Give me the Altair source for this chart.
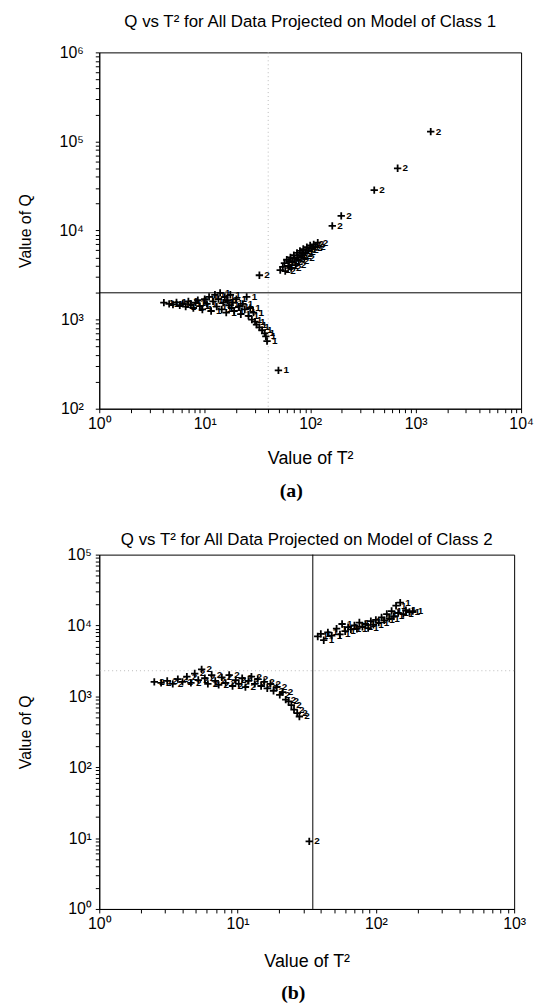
import altair as alt
import pandas as pd

# ---------------- Panel (a): all data projected on model of class 1 ----------------
a_title = "Q vs T\u00b2 for All Data Projected on Model of Class 1"
a_caption = "(a)"
a_class1_t2 = [4.1, 4.6, 5.0, 5.4, 5.8, 6.2, 6.6, 7.0, 7.4, 7.8, 8.2, 8.6, 9.0, 9.5, 10, 10.5,
               11, 11.5, 12, 12.5, 13, 13.5, 14, 14.5, 15, 15.5, 16, 16.5, 17, 17.5, 18, 18.5,
               19, 20, 21, 22, 23, 24, 25, 26, 27, 28, 29, 30, 31, 33, 35, 37, 38, 39, 50]
a_class1_q = [1550, 1500, 1480, 1560, 1450, 1520, 1400, 1600, 1480, 1350, 1550, 1650, 1420, 1300, 1700, 1500,
              1800, 1250, 1600, 1900, 1400, 1700, 2000, 1300, 1550, 1800, 1200, 1650, 1450, 1900, 1350, 1550,
              1250, 1700, 1400, 1150, 1500, 1300, 1800, 1100, 1350, 1000, 1200, 950, 880, 820, 760, 700, 650, 575, 269]
a_class2_t2 = [52, 55, 57, 58, 60, 62, 63, 65, 66, 68, 70, 71, 73, 75, 76, 78, 80, 82, 84, 86, 88, 90,
               93, 96, 100, 104, 108, 112, 118, 33, 162, 197, 405, 675, 1390]
a_class2_q = [3600, 3900, 4300, 3500, 4700, 4000, 4500, 5000, 3800, 4400, 5300, 4800, 4100, 5600, 5000, 4600,
              5900, 5200, 5500, 6200, 4900, 5700, 6500, 6000, 6800, 6300, 7000, 6600, 7300, 3150, 11300, 14600,
              28400, 50000, 129000]
a_q_limit = [2000]
a_t2_limit = [40]

# ---------------- Panel (b): all data projected on model of class 2 ----------------
b_title = "Q vs T\u00b2 for All Data Projected on Model of Class 2"
b_caption = "(b)"
b_class2_t2 = [2.5, 2.8, 3.1, 3.4, 3.7, 4.0, 4.3, 4.6, 4.9, 5.2, 5.5, 5.8, 6.1, 6.5, 6.9, 7.3, 7.7, 8.2,
               8.7, 9.2, 9.7, 10.2, 10.8, 11.4, 12, 12.6, 13.3, 14, 14.8, 15.6, 16.4, 17.3, 18.2, 19.2,
               20.2, 21.2, 22.3, 23.4, 24.5, 25.6, 27, 28, 33]
b_class2_q = [1600, 1550, 1650, 1500, 1750, 1600, 1900, 1550, 2100, 1700, 2400, 1800, 1500, 2000, 1650, 1450,
              1850, 1550, 2000, 1400, 1700, 1500, 1800, 1350, 1650, 1900, 1500, 1750, 1400, 1600, 1300, 1500,
              1200, 1350, 1050, 1150, 900, 850, 750, 650, 580, 520, 9]
b_class1_t2 = [38, 40, 42, 45, 48, 52, 55, 57, 60, 63, 66, 70, 73, 76, 80, 84, 88, 92, 96, 100, 105, 110,
               115, 120, 125, 130, 135, 140, 145, 150, 158, 165, 175, 185]
b_class1_q = [7000, 7600, 6200, 8000, 7200, 9000, 7500, 10500, 8300, 9500, 8800, 10000, 9000, 11000, 9600,
              10500, 9200, 11500, 10200, 12000, 11000, 13000, 11800, 14500, 12500, 16000, 13500, 19000, 15000,
              21000, 14500, 16500, 15500, 16000]
b_q_limit = [2300]
b_t2_limit = [35]

SUPERS = ["\u2070", "\u00b9", "\u00b2", "\u00b3", "\u2074", "\u2075", "\u2076"]
LABEL_EXPR = ("abs(log(datum.value)/LN10 - round(log(datum.value)/LN10)) < 0.001 ? '10' + ["
              + ",".join("'" + s + "'" for s in SUPERS)
              + "][round(log(datum.value)/LN10)] : ''")

FONT = "Liberation Sans"
PLUS = "M-1,0L1,0M0,-1L0,1"


def log_ticks(lo, hi):
    vals = []
    for k in range(lo, hi):
        for m in range(1, 10):
            vals.append(m * 10 ** k)
    vals.append(10 ** hi)
    return vals


def points_df(t2, q, label):
    return pd.DataFrame({"t2": t2, "q": q, "label": [label] * len(t2)})


AXIS_STYLE = dict(grid=False, tickSize=4, tickColor="black", domainColor="black", labelColor="black",
                  titleColor="black", labelFont=FONT, titleFont=FONT, labelFontSize=16,
                  titleFontWeight="normal", labelFlush=False, labelOverlap=False)


def panel(df, q_lim, t2_lim, xexp, yexp, title, caption, w, h, ylab_pad, ytitle_pad, xtitle_pad,
          title_off, cap_x, cap_off, q_line_style, t2_line_style):
    xscale = alt.Scale(type="log", domain=[10 ** xexp[0], 10 ** xexp[1]], nice=False)
    yscale = alt.Scale(type="log", domain=[10 ** yexp[0], 10 ** yexp[1]], nice=False)
    x_enc = alt.X("t2:Q", scale=xscale,
                  axis=alt.Axis(orient="bottom", values=log_ticks(*xexp), labelExpr=LABEL_EXPR,
                                title="Value of T\u00b2", labelPadding=3, titlePadding=xtitle_pad,
                                titleFontSize=18, **AXIS_STYLE))
    y_enc = alt.Y("q:Q", scale=yscale,
                  axis=alt.Axis(orient="left", values=log_ticks(*yexp), labelExpr=LABEL_EXPR,
                                title="Value of Q", labelPadding=ylab_pad, titlePadding=ytitle_pad,
                                titleFontSize=16, **AXIS_STYLE))
    cap_axis = alt.Axis(orient="bottom", title=caption, labels=False, ticks=False, domain=False,
                        grid=False, titleFont="Liberation Serif", titleFontWeight="bold", titleFontSize=20,
                        titleColor="black", titlePadding=6, titleX=cap_x, offset=cap_off)
    base = alt.Chart(df)
    pts = base.mark_point(shape=PLUS, filled=False, stroke="black", strokeWidth=1.8, size=55,
                          opacity=1).encode(x=x_enc, y=y_enc)
    txt = base.mark_text(dx=5, align="left", baseline="middle", fontSize=10, font=FONT,
                         fontWeight="bold", fill="black").encode(
        x=alt.X("t2:Q", axis=cap_axis), y=alt.Y("q:Q", axis=None), text="label:N")
    hline = alt.Chart(pd.DataFrame({"q": q_lim})).mark_rule(**q_line_style).encode(
        y=alt.Y("q:Q", axis=None))
    vline = alt.Chart(pd.DataFrame({"t2": t2_lim})).mark_rule(**t2_line_style).encode(
        x=alt.X("t2:Q", axis=None))
    return alt.layer(hline, vline, pts, txt).resolve_axis(x="independent", y="independent").properties(
        width=w, height=h,
        title=alt.Title(title, fontSize=17, font=FONT, fontWeight="normal", color="black",
                        anchor="middle", frame="group", offset=title_off))


df_a = pd.concat([points_df(a_class1_t2, a_class1_q, "1"), points_df(a_class2_t2, a_class2_q, "2")])
df_b = pd.concat([points_df(b_class2_t2, b_class2_q, "2"), points_df(b_class1_t2, b_class1_q, "1")])

solid = dict(color="black", strokeWidth=1)
faint = dict(color="#bbbbbb", strokeWidth=1, strokeDash=[1, 3])

pa = panel(df_a, a_q_limit, a_t2_limit, (0, 4), (2, 6), a_title, a_caption, 425, 359, 12, 26, 18, 14,
           193, 66, solid, faint)
pb = panel(df_b, b_q_limit, b_t2_limit, (0, 3), (0, 5), b_title, b_caption, 418, 357, 4, 34, 21, -2,
           195, 68, faint, solid)

chart = alt.concat(pa, pb, columns=1, spacing=29, bounds="full").properties(
    padding={"left": 16, "top": 8, "right": 0, "bottom": 0},
    background="white"
).configure_view(stroke="black", strokeWidth=1)

chart.save("out.html", embed_options={"renderer": "svg", "actions": False})
